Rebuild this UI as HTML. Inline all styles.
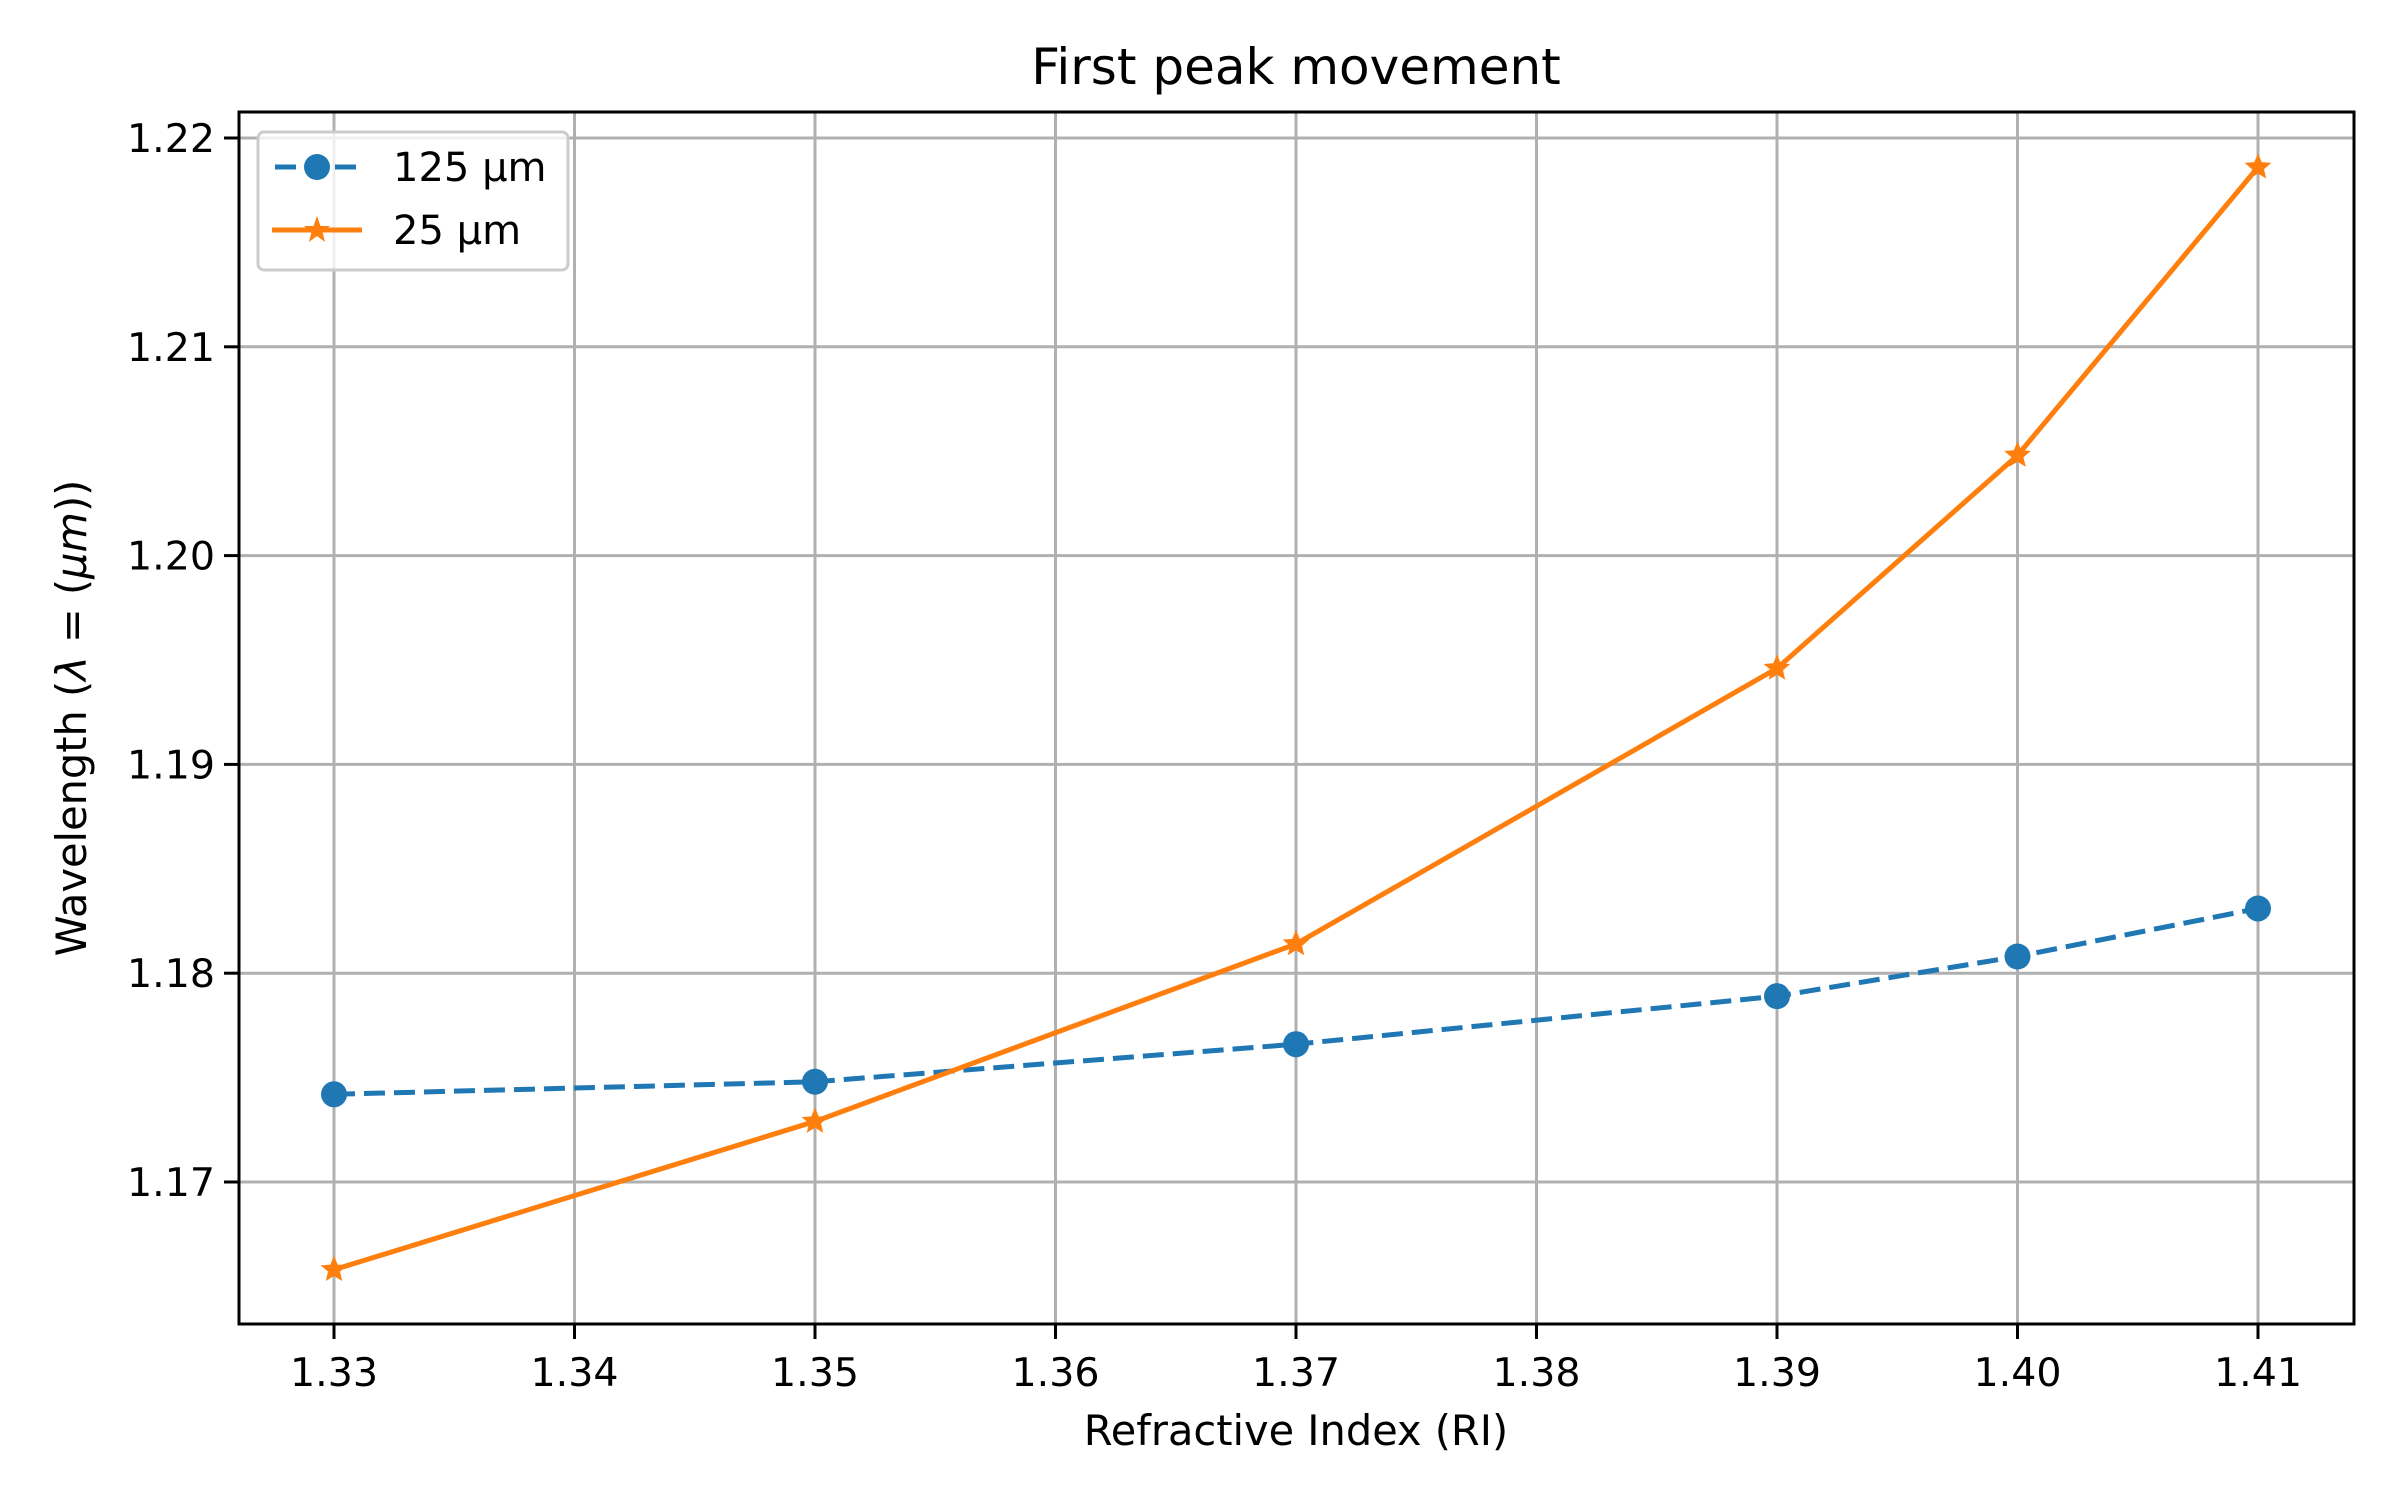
<!DOCTYPE html>
<html><head><meta charset="utf-8"><style>body{margin:0;background:#fff}svg{display:block}text{font-family:"DejaVu Sans","Liberation Sans",sans-serif;fill:#000}</style></head>
<body>
<svg id="chart" width="2400" height="1500" xmlns="http://www.w3.org/2000/svg">
<rect width="2400" height="1500" fill="#fff"/>
<g id="grid"></g><g id="series"></g><g id="axes"></g>
</svg>
<script>
const categories=[1.33,1.35,1.37,1.39,1.40,1.41];
const series125=[1.1742,1.1748,1.1766,1.1789,1.1808,1.1831];
const series25=[1.1658,1.1729,1.1814,1.1946,1.2048,1.2186];
const xTicks=[1.33,1.34,1.35,1.36,1.37,1.38,1.39,1.40,1.41];
const yTicks=[1.17,1.18,1.19,1.20,1.21,1.22];
const NS="http://www.w3.org/2000/svg";
const L=239,R=2354,T=112,B=1324;
function xs(v){return 334+(v-1.33)/0.01*240.5;}
function ys(v){return 1182-(v-1.17)/0.01*208.8;}
function mk(tag,at,parent){const e=document.createElementNS(NS,tag);for(const k in at)e.setAttribute(k,at[k]);parent.appendChild(e);return e;}
const grid=document.getElementById('grid'),ser=document.getElementById('series'),ax=document.getElementById('axes');
xTicks.forEach(t=>{const x=xs(t);
 const g=mk('line',{x1:x,x2:x,y1:T,y2:B,stroke:'#b0b0b0','stroke-width':3},grid);
 
 mk('line',{x1:x,x2:x,y1:B,y2:B+15,stroke:'#000','stroke-width':3},ax);
 const tx=mk('text',{x:x,y:B+62,'text-anchor':'middle','font-size':'39.5'},ax);tx.textContent=t.toFixed(2);
 });
yTicks.forEach(t=>{const y=ys(t);
 const g=mk('line',{x1:L,x2:R,y1:y,y2:y,stroke:'#b0b0b0','stroke-width':3},grid);
 
 mk('line',{x1:L-15,x2:L,y1:y,y2:y,stroke:'#000','stroke-width':3},ax);
 const tx=mk('text',{x:L-24,y:y+14,'text-anchor':'end','font-size':'39.5'},ax);tx.textContent=t.toFixed(2);
 });
function star(cx,cy,r){let p=[];for(let i=0;i<10;i++){const a=-Math.PI/2+i*Math.PI/5;const rr=i%2?r*0.45:r;p.push((cx+rr*Math.cos(a)).toFixed(1)+','+(cy+rr*Math.sin(a)).toFixed(1));}return p.join(' ');}
const p1=mk('polyline',{points:categories.map((c,i)=>xs(c)+','+ys(series125[i])).join(' '),fill:'none',stroke:'#1f77b4','stroke-width':5,'stroke-dasharray':'21,9'},ser);

categories.forEach((c,i)=>{const m=mk('circle',{cx:xs(c),cy:ys(series125[i]),r:13,fill:'#1f77b4'},ser);
 });
const p2=mk('polyline',{points:categories.map((c,i)=>xs(c)+','+ys(series25[i])).join(' '),fill:'none',stroke:'#ff7f0e','stroke-width':5},ser);

categories.forEach((c,i)=>{const m=mk('polygon',{points:star(xs(c),ys(series25[i]),14),fill:'#ff7f0e'},ser);
 });
</script>
<svg style="position:absolute;left:0;top:0" width="2400" height="1500" xmlns="http://www.w3.org/2000/svg">
<rect x="239" y="112" width="2115" height="1212" fill="none" stroke="#000" stroke-width="3"/>
<text x="1296" y="84" text-anchor="middle" font-size="50">First peak movement</text>
<text x="1296" y="1445" text-anchor="middle" font-size="41.5">Refractive Index (RI)</text>
<text transform="translate(86,718) rotate(-90)" text-anchor="middle" font-size="41.5">Wavelength (<tspan font-style="italic">λ</tspan> = (<tspan font-style="italic">μm</tspan>))</text>
<g>
<rect x="258" y="132" width="310" height="138" rx="6" fill="#fff" fill-opacity="0.8" stroke="#ccc" stroke-width="3"/>
<line x1="275" x2="358" y1="167" y2="167" stroke="#1f77b4" stroke-width="5" stroke-dasharray="21,9"/>
<circle cx="317" cy="167" r="13" fill="#1f77b4"/>
<text x="393" y="181" font-size="40">125 μm</text>
<line x1="272" x2="362" y1="230" y2="230" stroke="#ff7f0e" stroke-width="5"/>
<polygon points="317,216 320.5,226 330,226 322.5,232 325,242 317,236 309,242 311.5,232 304,226 313.5,226" fill="#ff7f0e"/>
<text x="393" y="244" font-size="40">25 μm</text>
</g>
</svg>
</body></html>
